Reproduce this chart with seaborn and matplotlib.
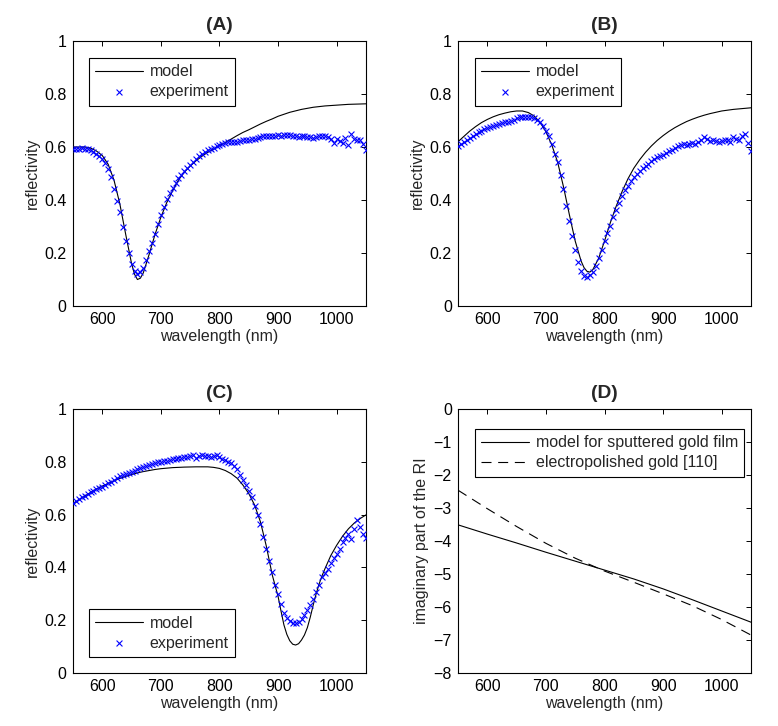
import numpy as np
import matplotlib
matplotlib.use('Agg')
import matplotlib.pyplot as plt
import seaborn as sns

# wavelength grid of the measured spectra (nm)
exp_wl = np.arange(550, 1051, 5)

# panel A
exp_a = [0.591, 0.593, 0.594, 0.595, 0.594, 0.593, 0.588, 0.582, 0.575, 0.565,
         0.556, 0.538, 0.517, 0.486, 0.443, 0.397, 0.356, 0.299, 0.244, 0.200,
         0.157, 0.132, 0.122, 0.128, 0.145, 0.172, 0.208, 0.238, 0.272, 0.310,
         0.342, 0.372, 0.405, 0.425, 0.445, 0.466, 0.482, 0.496, 0.510, 0.522,
         0.532, 0.545, 0.556, 0.565, 0.573, 0.580, 0.587, 0.592, 0.597, 0.602,
         0.607, 0.612, 0.616, 0.619, 0.620,
         0.618, 0.620, 0.622, 0.625, 0.626, 0.628, 0.630, 0.632, 0.635, 0.638,
         0.640, 0.641, 0.642, 0.640, 0.642, 0.644, 0.643, 0.645, 0.644, 0.646,
         0.643, 0.642, 0.638, 0.641, 0.640, 0.637, 0.636, 0.635, 0.638, 0.641,
         0.643, 0.640, 0.638, 0.632, 0.615, 0.632, 0.622, 0.615, 0.635, 0.608,
         0.648, 0.630, 0.625, 0.628, 0.612, 0.590]
model_a_wl = [550, 560, 570, 580, 590, 600, 610, 620, 630, 640, 650, 655, 660, 665,
              670, 680, 690, 700, 710, 720, 730, 740, 750, 760, 770, 780, 790, 800,
              810, 820, 830, 840, 850, 860, 870, 880, 890, 900, 920, 940, 960, 980,
              1000, 1020, 1050]
model_a = [0.600, 0.600, 0.600, 0.596, 0.585, 0.568, 0.535, 0.475, 0.385, 0.270,
           0.160, 0.120, 0.100, 0.105, 0.125, 0.195, 0.270, 0.335, 0.390, 0.435,
           0.475, 0.505, 0.528, 0.548, 0.565, 0.580, 0.592, 0.605, 0.617, 0.630,
           0.643, 0.655, 0.665, 0.676, 0.687, 0.697, 0.706, 0.716, 0.731, 0.742,
           0.750, 0.755, 0.758, 0.761, 0.763]

# panel B
exp_b = [0.603, 0.612, 0.620, 0.628, 0.635, 0.642, 0.648, 0.655, 0.660, 0.667,
         0.672, 0.676, 0.680, 0.684, 0.688, 0.690, 0.694, 0.693, 0.698, 0.702,
         0.708, 0.712, 0.715, 0.712, 0.714, 0.712, 0.710, 0.703, 0.694, 0.678,
         0.660, 0.640, 0.610, 0.575, 0.542, 0.495, 0.443, 0.378, 0.320, 0.265,
         0.213, 0.165, 0.132, 0.114, 0.108, 0.116, 0.130, 0.152, 0.180, 0.212,
         0.245, 0.275, 0.302, 0.335, 0.362, 0.389, 0.414, 0.436, 0.454, 0.471,
         0.486, 0.498, 0.510, 0.519, 0.528, 0.537, 0.546, 0.554, 0.562,
         0.565, 0.570, 0.576, 0.584, 0.590, 0.596, 0.602, 0.608, 0.610, 0.607,
         0.612, 0.615, 0.610, 0.618, 0.625, 0.636, 0.630, 0.622, 0.625, 0.622,
         0.620, 0.622, 0.625, 0.628, 0.620, 0.638, 0.630, 0.625, 0.640, 0.650,
         0.615, 0.585]
model_b_wl = [550, 560, 570, 580, 590, 600, 610, 620, 630, 640, 650, 660, 670, 680,
              690, 700, 710, 720, 730, 740, 750, 760, 765, 770, 775, 780, 790, 800,
              810, 820, 830, 840, 850, 860, 870, 880, 890, 900, 910, 920, 930, 940,
              950, 960, 970, 980, 990, 1000, 1020, 1050]
model_b = [0.620, 0.640, 0.660, 0.677, 0.692, 0.704, 0.714, 0.722, 0.728, 0.733,
           0.736, 0.736, 0.730, 0.717, 0.693, 0.658, 0.608, 0.543, 0.450, 0.345,
           0.245, 0.170, 0.145, 0.131, 0.128, 0.137, 0.180, 0.245, 0.315, 0.377,
           0.432, 0.480, 0.520, 0.552, 0.580, 0.604, 0.625, 0.643, 0.659, 0.673,
           0.685, 0.696, 0.705, 0.713, 0.720, 0.726, 0.731, 0.736, 0.742, 0.748]

# panel C
exp_c = [0.645, 0.652, 0.658, 0.665, 0.670, 0.678, 0.684, 0.690, 0.696, 0.702,
         0.706, 0.712, 0.718, 0.724, 0.731, 0.738, 0.745, 0.750, 0.754, 0.758,
         0.762, 0.766, 0.771, 0.775, 0.779, 0.783, 0.787, 0.791, 0.795, 0.798,
         0.801, 0.803, 0.805, 0.808, 0.810, 0.812, 0.814, 0.815, 0.817, 0.819,
         0.821, 0.824, 0.816, 0.823, 0.827, 0.823, 0.822, 0.820, 0.822, 0.825,
         0.817, 0.811, 0.806, 0.800, 0.795, 0.786, 0.774, 0.750, 0.732, 0.712,
         0.690, 0.665, 0.634, 0.599, 0.565, 0.515, 0.470, 0.425, 0.382, 0.335,
         0.298, 0.262, 0.226, 0.208, 0.197, 0.190, 0.189, 0.193, 0.204, 0.218,
         0.238, 0.256, 0.282, 0.305, 0.333, 0.362, 0.378, 0.393, 0.418, 0.436,
         0.452, 0.468, 0.497, 0.512, 0.528, 0.507, 0.545, 0.580, 0.553, 0.525,
         0.512]
model_c_wl = [550, 560, 570, 580, 590, 600, 610, 620, 630, 640, 650, 660, 670, 680,
              690, 700, 720, 740, 760, 780, 790, 800, 810, 820, 830, 840, 850, 860,
              870, 880, 890, 900, 905, 910, 915, 920, 925, 930, 935, 940, 945, 950,
              955, 960, 965, 970, 975, 980, 990, 1000, 1010, 1020, 1030, 1040, 1050]
model_c = [0.638, 0.655, 0.670, 0.684, 0.697, 0.708, 0.718, 0.728, 0.737, 0.745,
           0.752, 0.758, 0.763, 0.767, 0.771, 0.774, 0.778, 0.780, 0.781, 0.781,
           0.779, 0.775, 0.767, 0.755, 0.738, 0.712, 0.680, 0.636, 0.572, 0.480,
           0.372, 0.290, 0.235, 0.182, 0.146, 0.122, 0.109, 0.106, 0.111, 0.125,
           0.144, 0.172, 0.212, 0.258, 0.300, 0.337, 0.368, 0.395, 0.445, 0.484,
           0.518, 0.546, 0.568, 0.585, 0.599]

# panel D: imaginary part of the refractive index
ri_wl = [550, 600, 650, 700, 750, 800, 850, 900, 950, 1000, 1050]
ri_sputtered = [-3.51, -3.79, -4.06, -4.34, -4.61, -4.88, -5.15, -5.45, -5.78, -6.12, -6.46]
ri_electro = [-2.46, -3.02, -3.56, -4.07, -4.52, -4.91, -5.25, -5.60, -5.96, -6.38, -6.85]

wl_ticks = [600, 700, 800, 900, 1000]
refl_ticks = [0, 0.2, 0.4, 0.6, 0.8, 1]
refl_labels = ['0', '0.2', '0.4', '0.6', '0.8', '1']
ri_ticks = [0, -1, -2, -3, -4, -5, -6, -7, -8]

sns.set_style("white")
plt.rcParams['font.family'] = ['Liberation Sans', 'DejaVu Sans']
plt.rcParams['font.size'] = 11.5
plt.rcParams['axes.linewidth'] = 0.8

fig = plt.figure(figsize=(7.78, 7.26), dpi=100)
rects = {
    'A': [0.0938, 0.5785, 0.3766, 0.3650],
    'B': [0.5887, 0.5785, 0.3766, 0.3650],
    'C': [0.0938, 0.0730, 0.3766, 0.3636],
    'D': [0.5887, 0.0730, 0.3766, 0.3636],
}


def style_axes(ax, title):
    ax.set_xlim(550, 1050)
    ax.set_xticks(wl_ticks)
    ax.set_xlabel('wavelength (nm)', labelpad=1)
    ax.set_title(title, fontweight='bold', pad=8)
    for s in ax.spines.values():
        s.set_visible(True)
        s.set_color('black')
        s.set_linewidth(0.8)
    ax.tick_params(direction='in', length=3.5, width=0.7, top=True, right=True,
                   pad=4.5, labelsize=11.5, colors='black')


def legend_box(ax, loc, anchor):
    leg = ax.legend(loc=loc, bbox_to_anchor=anchor, borderaxespad=0,
                    fancybox=False, edgecolor='black', framealpha=1,
                    handlelength=3.0, handletextpad=0.4, labelspacing=0.3,
                    borderpad=0.4, scatterpoints=1, fontsize=11.5)
    leg.get_frame().set_linewidth(0.8)


panels = [('A', model_a_wl, model_a, exp_a, 'upper left', (0.055, 0.936)),
          ('B', model_b_wl, model_b, exp_b, 'upper left', (0.058, 0.936)),
          ('C', model_c_wl, model_c, exp_c, 'lower left', (0.055, 0.061))]

for name, mwl, mval, ev, loc, anchor in panels:
    ax = fig.add_axes(rects[name])
    sns.lineplot(x=mwl, y=mval, color='black', linewidth=0.8, ax=ax, label='model')
    sns.scatterplot(x=exp_wl, y=ev, marker='x', color='blue', s=18,
                    linewidth=0.8, ax=ax, label='experiment', zorder=3)
    ax.set_ylim(0, 1)
    ax.set_yticks(refl_ticks)
    ax.set_yticklabels(refl_labels)
    ax.set_ylabel('reflectivity', labelpad=3)
    style_axes(ax, '(%s)' % name)
    legend_box(ax, loc, anchor)

ax = fig.add_axes(rects['D'])
sns.lineplot(x=ri_wl, y=ri_sputtered, color='black', linewidth=0.8, ax=ax,
             label='model for sputtered gold film')
sns.lineplot(x=ri_wl, y=ri_electro, color='black', linewidth=0.8, ax=ax,
             label='electropolished gold [110]', dashes=False)
ax.lines[1].set_dashes((9, 6))
ax.set_ylim(-8, 0)
ax.set_yticks(ri_ticks)
ax.set_ylabel('imaginary part of the RI', labelpad=3)
style_axes(ax, '(D)')
legend_box(ax, 'upper left', (0.058, 0.924))

fig.savefig('out.png', dpi=100, facecolor='white')
